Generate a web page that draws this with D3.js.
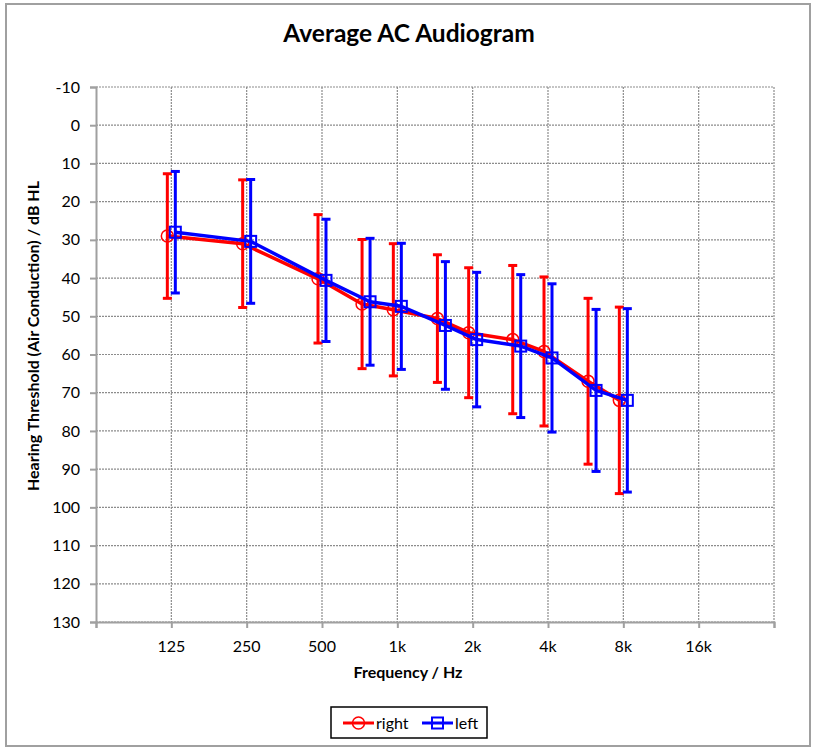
<!DOCTYPE html>
<html>
<head>
<meta charset="utf-8">
<script src="https://cdn.jsdelivr.net/npm/d3@7"></script>
<style>
  html, body { margin: 0; padding: 0; background: #fff; }
  svg { display: block; font-family: Lato, "Open Sans", sans-serif; }
</style>
</head>
<body>
<svg id="chart" width="817" height="753"></svg>
<script>
// ---- data ----
const frequencies = [125, 250, 500, 750, 1000, 1500, 2000, 3000, 4000, 6000, 8000];
const rightMean = [29.0, 31.0, 40.2, 46.8, 48.3, 50.6, 54.3, 56.1, 59.2, 67.0, 72.0];
const rightSD   = [16.3, 16.7, 16.8, 16.9, 17.3, 16.7, 17.0, 19.4, 19.5, 21.7, 24.4];
const leftMean  = [28.0, 30.4, 40.6, 46.2, 47.4, 52.4, 56.1, 57.8, 60.9, 69.4, 72.0];
const leftSD    = [15.9, 16.2, 16.0, 16.6, 16.5, 16.7, 17.6, 18.7, 19.4, 21.2, 24.0];
const xTickValues = [125, 250, 500, 1000, 2000, 4000, 8000, 16000];
const xTickLabels = ["125", "250", "500", "1k", "2k", "4k", "8k", "16k"];
const yTickValues = [-10, 0, 10, 20, 30, 40, 50, 60, 70, 80, 90, 100, 110, 120, 130];
const seriesNames = ["right", "left"];

// ---- layout ----
const W = 817, H = 753;
const plot = { left: 96, right: 774, top: 87, bottom: 622 };
const svg = d3.select("#chart");

const x = d3.scaleLog().base(2).domain([62.5, 32000]).range([plot.left, plot.right]);
const y = d3.scaleLinear().domain([-10, 130]).range([plot.top, plot.bottom]);

// outer border
svg.append("rect").attr("x", 6).attr("y", 4).attr("width", 804).attr("height", 742)
  .attr("fill", "#fff").attr("stroke", "#a0a0a0").attr("stroke-width", 2);

// gridlines
const grid = svg.append("g");
grid.selectAll("line.h").data(yTickValues).enter().append("line")
  .attr("x1", plot.left).attr("x2", plot.right)
  .attr("y1", d => y(d)).attr("y2", d => y(d))
  .attr("stroke", "#8c8c8c").attr("stroke-width", 1.2).attr("stroke-dasharray", "2,1");
const vGrid = xTickValues.concat([32000]);
grid.selectAll("line.v").data(vGrid).enter().append("line")
  .attr("y1", plot.top).attr("y2", plot.bottom)
  .attr("x1", d => x(d)).attr("x2", d => x(d))
  .attr("stroke", "#8c8c8c").attr("stroke-width", 1.2).attr("stroke-dasharray", "2,1");

// axes
const yAxis = d3.axisLeft(y).tickValues(yTickValues).tickSize(6).tickPadding(10)
  .tickFormat(d => String(d));
const gy = svg.append("g").attr("transform", `translate(${plot.left},0)`).call(yAxis);
gy.select(".domain").attr("stroke", "#a0a0a0").attr("stroke-width", 2);
gy.selectAll(".tick line").attr("stroke", "#a0a0a0").attr("stroke-width", 2);
gy.selectAll(".tick text").attr("font-size", 16).attr("fill", "#000")
  .attr("font-family", "Lato, sans-serif");

const xTickAll = [62.5].concat(xTickValues).concat([32000]);
const xAxisLine = d3.axisBottom(x).tickValues(xTickAll).tickSize(6).tickFormat("");
const gx = svg.append("g").attr("transform", `translate(0,${plot.bottom})`).call(xAxisLine);
gx.select(".domain").attr("stroke", "#a0a0a0").attr("stroke-width", 2);
gx.selectAll(".tick line").attr("stroke", "#a0a0a0").attr("stroke-width", 2);
// labels under octave lines
svg.append("g").selectAll("text").data(xTickValues).enter().append("text")
  .attr("x", d => x(d)).attr("y", plot.bottom + 30)
  .attr("text-anchor", "middle").attr("font-size", 16).attr("fill", "#000")
  .text((d, i) => xTickLabels[i]);

// titles
svg.append("text").attr("x", 409).attr("y", 42).attr("text-anchor", "middle")
  .attr("font-size", 24.5).attr("font-weight", "bold").text("Average AC Audiogram");
svg.append("text").attr("x", 408).attr("y", 678).attr("text-anchor", "middle")
  .attr("font-size", 16).attr("font-weight", "bold").text("Frequency / Hz");
svg.append("text").attr("transform", `translate(39,336) rotate(-90)`)
  .attr("text-anchor", "middle").attr("font-size", 16).attr("font-weight", "bold")
  .text("Hearing Threshold (Air Conduction) / dB HL");

// series
const series = [
  { name: seriesNames[0], mean: rightMean, sd: rightSD, color: "#ff0000", offset: -4, marker: "circle" },
  { name: seriesNames[1], mean: leftMean, sd: leftSD, color: "#0000ff", offset: 4, marker: "square" }
];

series.forEach(s => {
  const pts = frequencies.map((f, i) => ({ f, m: s.mean[i], sd: s.sd[i] }));
  const g = svg.append("g");
  const px = d => x(d.f) + s.offset;
  // error bars
  g.selectAll("line.eb").data(pts).enter().append("line").attr("class", "eb")
    .attr("x1", px).attr("x2", px)
    .attr("y1", d => y(d.m - d.sd)).attr("y2", d => y(d.m + d.sd))
    .attr("stroke", s.color).attr("stroke-width", 3);
  ["lo", "hi"].forEach(side => {
    g.selectAll("line.cap-" + side).data(pts).enter().append("line").attr("class", "cap-" + side)
      .attr("x1", d => px(d) - 4.5).attr("x2", d => px(d) + 4.5)
      .attr("y1", d => y(side === "lo" ? d.m - d.sd : d.m + d.sd))
      .attr("y2", d => y(side === "lo" ? d.m - d.sd : d.m + d.sd))
      .attr("stroke", s.color).attr("stroke-width", 3);
  });
  // line
  g.append("path").datum(pts)
    .attr("d", d3.line().x(px).y(d => y(d.m)))
    .attr("fill", "none").attr("stroke", s.color).attr("stroke-width", 3.5)
    .attr("stroke-linejoin", "round");
  // markers
  if (s.marker === "circle") {
    g.selectAll("circle").data(pts).enter().append("circle")
      .attr("cx", px).attr("cy", d => y(d.m)).attr("r", 6)
      .attr("fill", "none").attr("stroke", s.color).attr("stroke-width", 1.5);
  } else {
    g.selectAll("rect").data(pts).enter().append("rect")
      .attr("x", d => px(d) - 5.5).attr("y", d => y(d.m) - 5.5)
      .attr("width", 11).attr("height", 11)
      .attr("fill", "none").attr("stroke", s.color).attr("stroke-width", 2);
  }
});

// legend
const leg = svg.append("g");
leg.append("rect").attr("x", 331).attr("y", 707).attr("width", 156).attr("height", 31)
  .attr("fill", "#fff").attr("stroke", "#000").attr("stroke-width", 1.5);
const legItems = leg.selectAll("g.item").data(series).enter().append("g").attr("class", "item")
  .attr("transform", (d, i) => `translate(${343 + i * 79},723)`);
legItems.append("line").attr("x1", 0).attr("x2", 31).attr("y1", 0).attr("y2", 0)
  .attr("stroke", d => d.color).attr("stroke-width", 3);
legItems.each(function(d) {
  const gi = d3.select(this);
  if (d.marker === "circle") {
    gi.append("circle").attr("cx", 15.5).attr("cy", 0).attr("r", 6)
      .attr("fill", "none").attr("stroke", d.color).attr("stroke-width", 1.5);
  } else {
    gi.append("rect").attr("x", 10).attr("y", -5.5).attr("width", 11).attr("height", 11)
      .attr("fill", "none").attr("stroke", d.color).attr("stroke-width", 2);
  }
});
legItems.append("text").attr("x", 33).attr("y", 5.5).attr("font-size", 16).attr("fill", "#000")
  .text(d => d.name);
</script>
</body>
</html>
